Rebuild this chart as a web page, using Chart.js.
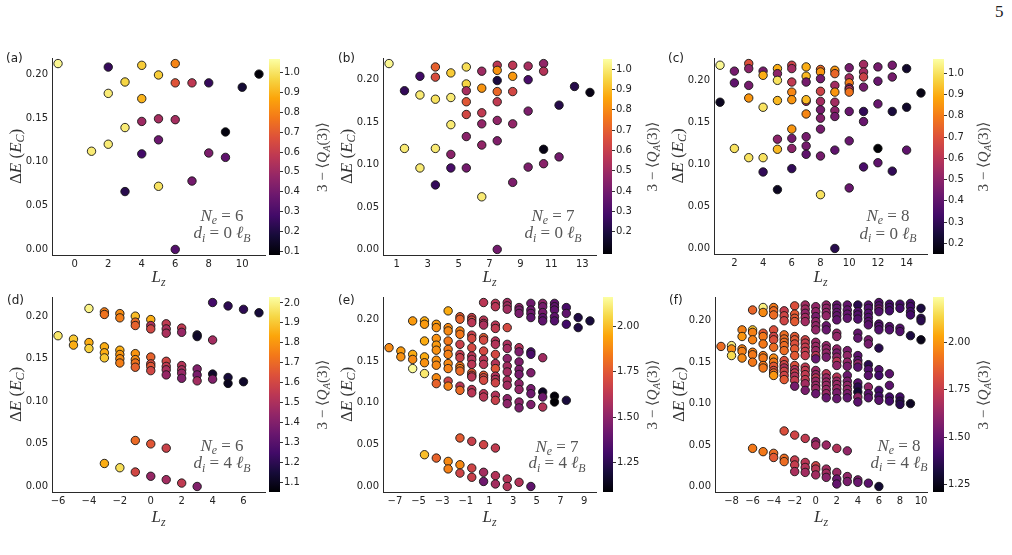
<!DOCTYPE html>
<html>
<head>
<meta charset="utf-8">
<script src="https://cdn.jsdelivr.net/npm/chart.js@4.4.1/dist/chart.umd.min.js"></script>
<style>
  body { margin: 0; background: #fff; }
  #fig { position: relative; width: 1012px; height: 555px; overflow: hidden; background: #fff; }
  .box { position: absolute; }
  #page { position: absolute; left: 995px; top: 2px; font: 17px "Liberation Serif", serif; color: #222; }
</style>
</head>
<body>
<div id="fig"><div id="page">5</div></div>
<script>
// ---- data: one entry of lz per column, dE / q hold the points of that column ----
const yTicks = [0, 0.05, 0.1, 0.15, 0.2];

// (a) Ne = 6, d = 0
const lzA = [-1, 1, 2, 3, 4, 5, 6, 7, 8, 9, 10, 11];
const dEA = [
  [0.212], [0.112], [0.208, 0.178, 0.120], [0.191, 0.139, 0.066],
  [0.210, 0.172, 0.146, 0.109], [0.199, 0.149, 0.125, 0.072],
  [0.212, 0.190, 0.148, 0.000], [0.190, 0.078], [0.190, 0.110],
  [0.134, 0.105], [0.185], [0.200]
];
const qA = [
  [1.05], [1.02], [0.25, 1.02, 1.02], [0.97, 1.02, 0.22],
  [0.95, 0.90, 0.50, 0.28], [0.95, 0.52, 0.38, 1.00],
  [0.80, 0.68, 0.52, 0.32], [0.58, 0.40], [0.25, 0.42],
  [0.10, 0.35], [0.17], [0.09]
];
const xTicksA = [0, 2, 4, 6, 8, 10];
const cbTicksA = [0.1, 0.2, 0.3, 0.4, 0.5, 0.6, 0.7, 0.8, 0.9, 1.0];
const cbRangeA = [0.08, 1.07];

// (b) Ne = 7, d = 0
const lzB = [0.5, 1.5, 2.5, 3.5, 4.5, 5.5, 6.5, 7.5, 8.5, 9.5, 10.5, 11.5, 12.5, 13.5];
const dEB = [
  [0.219], [0.187, 0.119], [0.204, 0.182, 0.096],
  [0.215, 0.203, 0.177, 0.119, 0.076],
  [0.208, 0.179, 0.147, 0.112, 0.096],
  [0.215, 0.195, 0.187, 0.174, 0.159, 0.133, 0.096],
  [0.210, 0.190, 0.161, 0.148, 0.123, 0.062],
  [0.217, 0.211, 0.199, 0.186, 0.174, 0.152, 0.128, 0.000],
  [0.217, 0.204, 0.186, 0.148, 0.079],
  [0.216, 0.200, 0.163, 0.097],
  [0.219, 0.210, 0.118, 0.101],
  [0.170, 0.109], [0.192], [0.185]
];
const qB = [
  [1.03], [0.25, 1.00], [0.28, 1.00, 1.00],
  [0.70, 0.65, 0.98, 1.00, 0.25],
  [0.93, 1.00, 1.00, 0.45, 0.30],
  [0.97, 0.95, 0.52, 0.68, 0.63, 0.45, 0.40],
  [0.50, 0.82, 0.58, 0.47, 0.47, 1.00],
  [0.57, 0.82, 0.20, 0.72, 0.58, 0.47, 0.43, 0.40],
  [0.57, 0.83, 0.63, 0.47, 0.42],
  [0.52, 0.30, 0.42, 0.42],
  [0.47, 0.55, 0.12, 0.45],
  [0.22, 0.40], [0.22], [0.12]
];
const xTicksB = [1, 3, 5, 7, 9, 11, 13];
const cbTicksB = [0.2, 0.3, 0.4, 0.5, 0.6, 0.7, 0.8, 0.9, 1.0];
const cbRangeB = [0.09, 1.05];

// (c) Ne = 8, d = 0
const lzC = [1, 2, 3, 4, 5, 6, 7, 8, 9, 10, 11, 12, 13, 14, 15];
const dEC = [
  [0.218, 0.174],
  [0.211, 0.197, 0.119],
  [0.220, 0.214, 0.194, 0.179, 0.108],
  [0.211, 0.206, 0.168, 0.108, 0.091],
  [0.214, 0.208, 0.200, 0.176, 0.130, 0.118, 0.070],
  [0.218, 0.214, 0.198, 0.186, 0.177, 0.142, 0.131, 0.119, 0.095],
  [0.216, 0.205, 0.198, 0.175, 0.177, 0.160, 0.133, 0.122, 0.112],
  [0.213, 0.210, 0.202, 0.187, 0.175, 0.165, 0.155, 0.142, 0.110, 0.064],
  [0.212, 0.208, 0.194, 0.186, 0.174, 0.164, 0.157, 0.117, 0.000],
  [0.215, 0.203, 0.197, 0.191, 0.189, 0.186, 0.163, 0.128, 0.072],
  [0.219, 0.210, 0.204, 0.192, 0.163, 0.151, 0.097],
  [0.216, 0.199, 0.172, 0.119, 0.102],
  [0.218, 0.204, 0.163, 0.092],
  [0.214, 0.168, 0.117],
  [0.185]
];
const qC = [
  [1.05, 0.20],
  [0.45, 0.40, 1.00],
  [0.70, 0.50, 0.45, 0.85, 1.00],
  [0.45, 0.90, 1.00, 1.00, 0.30],
  [0.90, 0.50, 1.00, 0.92, 0.50, 0.92, 0.20],
  [0.65, 0.55, 0.62, 0.82, 0.85, 0.85, 0.45, 0.50, 0.30],
  [0.90, 0.92, 0.45, 0.55, 0.92, 0.82, 0.45, 0.45, 0.40],
  [0.75, 0.85, 0.45, 0.65, 0.55, 0.45, 0.48, 0.45, 0.45, 1.00],
  [0.85, 0.75, 0.55, 0.85, 0.55, 0.50, 0.45, 0.40, 0.28],
  [0.45, 0.55, 0.80, 0.50, 0.60, 0.78, 0.42, 0.42, 0.42],
  [0.55, 0.55, 0.65, 0.45, 0.30, 0.42, 0.35],
  [0.45, 0.42, 0.42, 0.15, 0.40],
  [0.45, 0.45, 0.25, 0.30],
  [0.22, 0.22, 0.40],
  [0.18]
];
const xTicksC = [2, 4, 6, 8, 10, 12, 14];
const cbTicksC = [0.2, 0.3, 0.4, 0.5, 0.6, 0.7, 0.8, 0.9, 1.0];
const cbRangeC = [0.15, 1.067];

// (d) Ne = 6, d = 4
const lzD = [-6, -5, -4, -3, -2, -1, 0, 1, 2, 3, 4, 5, 6, 7];
const dED = [
  [0.177],
  [0.173, 0.166],
  [0.209, 0.169, 0.162],
  [0.205, 0.202, 0.164, 0.157, 0.151, 0.027],
  [0.203, 0.198, 0.160, 0.155, 0.150, 0.145, 0.022],
  [0.200, 0.193, 0.189, 0.156, 0.149, 0.145, 0.140, 0.054, 0.017],
  [0.196, 0.189, 0.185, 0.152, 0.144, 0.141, 0.136, 0.050, 0.012],
  [0.191, 0.185, 0.180, 0.147, 0.141, 0.137, 0.131, 0.045, 0.008],
  [0.186, 0.181, 0.142, 0.137, 0.133, 0.127, 0.004],
  [0.178, 0.176, 0.138, 0.131, 0.124, 0.000],
  [0.216, 0.172, 0.132, 0.126],
  [0.212, 0.128, 0.121],
  [0.208, 0.123],
  [0.204]
];
const qD = [
  [1.97],
  [1.90, 1.85],
  [2.00, 1.85, 1.92],
  [1.75, 1.72, 1.85, 1.85, 1.90, 1.85],
  [1.78, 1.75, 1.85, 1.80, 1.78, 1.75, 1.95],
  [1.88, 1.70, 1.68, 1.80, 1.78, 1.72, 1.68, 1.70, 1.60],
  [1.85, 1.50, 1.60, 1.68, 1.62, 1.65, 1.60, 1.65, 1.45],
  [1.55, 1.50, 1.50, 1.60, 1.55, 1.50, 1.45, 1.58, 1.48],
  [1.55, 1.45, 1.52, 1.50, 1.45, 1.40, 1.55],
  [1.15, 1.12, 1.40, 1.38, 1.48, 1.40],
  [1.25, 1.48, 1.12, 1.40],
  [1.20, 1.15, 1.10],
  [1.20, 1.12],
  [1.15]
];
const xTicksD = [-6, -4, -2, 0, 2, 4, 6];
const cbTicksD = [1.1, 1.2, 1.3, 1.4, 1.5, 1.6, 1.7, 1.8, 1.9, 2.0];
const cbRangeD = [1.05, 2.03];

// (e) Ne = 7, d = 4
const lzE = [-7.5, -6.5, -5.5, -4.5, -3.5, -2.5, -1.5, -0.5, 0.5, 1.5, 2.5, 3.5, 4.5, 5.5, 6.5, 7.5, 8.5, 9.5];
const dEE = [
  [0.166],
  [0.162, 0.155],
  [0.198, 0.158, 0.152, 0.141],
  [0.198, 0.194, 0.174, 0.155, 0.148, 0.135, 0.038],
  [0.194, 0.190, 0.177, 0.169, 0.163, 0.151, 0.145, 0.130, 0.123, 0.034],
  [0.210, 0.190, 0.186, 0.174, 0.164, 0.158, 0.147, 0.141, 0.126, 0.120, 0.030, 0.021],
  [0.203, 0.200, 0.186, 0.182, 0.170, 0.158, 0.154, 0.144, 0.141, 0.138, 0.120, 0.115, 0.058, 0.026, 0.016],
  [0.202, 0.199, 0.196, 0.181, 0.177, 0.166, 0.156, 0.152, 0.146, 0.136, 0.133, 0.131, 0.116, 0.112, 0.054, 0.022, 0.011],
  [0.220, 0.199, 0.195, 0.193, 0.178, 0.175, 0.162, 0.152, 0.146, 0.133, 0.130, 0.127, 0.111, 0.107, 0.050, 0.017, 0.006],
  [0.219, 0.215, 0.193, 0.189, 0.174, 0.170, 0.158, 0.147, 0.141, 0.132, 0.128, 0.124, 0.109, 0.103, 0.046, 0.013, 0.003],
  [0.220, 0.216, 0.212, 0.190, 0.170, 0.165, 0.153, 0.144, 0.137, 0.127, 0.121, 0.105, 0.099, 0.009, 0.000],
  [0.214, 0.211, 0.207, 0.166, 0.161, 0.149, 0.140, 0.134, 0.123, 0.116, 0.101, 0.094, 0.005],
  [0.219, 0.211, 0.207, 0.202, 0.161, 0.158, 0.136, 0.117, 0.111, 0.098, 0.000],
  [0.219, 0.215, 0.208, 0.202, 0.198, 0.154, 0.113, 0.107, 0.095],
  [0.219, 0.215, 0.211, 0.203, 0.198, 0.108, 0.101],
  [0.214, 0.207, 0.194, 0.103],
  [0.202, 0.190],
  [0.198]
];
const qE = [
  [1.88],
  [1.92, 1.90],
  [1.92, 1.96, 1.88, 2.15],
  [1.96, 1.92, 1.96, 1.96, 1.90, 2.10, 2.00],
  [1.92, 1.90, 1.90, 1.92, 1.90, 1.90, 1.88, 1.88, 1.78, 1.78],
  [1.96, 1.88, 1.88, 1.84, 1.84, 1.86, 1.88, 1.86, 1.68, 1.86, 1.88, 1.86],
  [1.76, 1.78, 1.86, 1.84, 1.66, 1.64, 1.66, 1.84, 1.84, 1.80, 1.62, 1.80, 1.76, 1.88, 1.68],
  [1.66, 1.70, 1.62, 1.66, 1.70, 1.70, 1.62, 1.60, 1.62, 1.76, 1.70, 1.62, 1.62, 1.62, 1.66, 1.68, 1.66],
  [1.62, 1.62, 1.62, 1.58, 1.76, 1.70, 1.70, 1.62, 1.62, 1.76, 1.70, 1.70, 1.62, 1.62, 1.68, 1.56, 1.42],
  [1.62, 1.62, 1.62, 1.64, 1.60, 1.60, 1.70, 1.60, 1.74, 1.60, 1.60, 1.68, 1.60, 1.66, 1.64, 1.60, 1.56],
  [1.56, 1.56, 1.56, 1.70, 1.58, 1.56, 1.50, 1.56, 1.56, 1.58, 1.56, 1.50, 1.50, 1.60, 1.60],
  [1.50, 1.45, 1.45, 1.60, 1.46, 1.46, 1.46, 1.44, 1.50, 1.52, 1.50, 1.46, 1.60],
  [1.42, 1.42, 1.42, 1.38, 1.32, 1.32, 1.46, 1.44, 1.42, 1.46, 1.38],
  [1.50, 1.44, 1.44, 1.38, 1.38, 1.55, 1.15, 1.42, 1.60],
  [1.38, 1.38, 1.38, 1.38, 1.35, 1.10, 1.09],
  [1.32, 1.38, 1.30, 1.20],
  [1.22, 1.22],
  [1.20]
];
const xTicksE = [-7, -5, -3, -1, 1, 3, 5, 7, 9];
const cbTicksE = [1.25, 1.5, 1.75, 2.0];
const cbRangeE = [1.087, 2.162];

// (f) Ne = 8, d = 4
const lzF = [-9, -8, -7, -6, -5, -4, -3, -2, -1, 0, 1, 2, 3, 4, 5, 6, 7, 8, 9, 10];
const dEF = [
  [0.169],
  [0.170, 0.166, 0.158],
  [0.189, 0.181, 0.166, 0.163, 0.155],
  [0.213, 0.189, 0.186, 0.177, 0.162, 0.159, 0.150, 0.046],
  [0.216, 0.210, 0.185, 0.181, 0.172, 0.158, 0.155, 0.146, 0.143, 0.042],
  [0.216, 0.212, 0.207, 0.189, 0.181, 0.177, 0.168, 0.155, 0.150, 0.145, 0.140, 0.137, 0.134, 0.040, 0.035],
  [0.212, 0.206, 0.200, 0.183, 0.178, 0.174, 0.170, 0.164, 0.152, 0.147, 0.143, 0.139, 0.134, 0.129, 0.067, 0.034, 0.030],
  [0.218, 0.208, 0.203, 0.199, 0.181, 0.177, 0.172, 0.166, 0.158, 0.146, 0.141, 0.137, 0.133, 0.128, 0.121, 0.062, 0.032, 0.026, 0.018],
  [0.219, 0.214, 0.209, 0.204, 0.199, 0.177, 0.173, 0.168, 0.163, 0.158, 0.144, 0.140, 0.135, 0.129, 0.124, 0.116, 0.058, 0.029, 0.023, 0.017],
  [0.217, 0.211, 0.205, 0.199, 0.194, 0.189, 0.174, 0.169, 0.164, 0.158, 0.154, 0.140, 0.135, 0.131, 0.127, 0.122, 0.118, 0.112, 0.054, 0.050, 0.025, 0.021, 0.014],
  [0.219, 0.215, 0.210, 0.206, 0.194, 0.189, 0.170, 0.166, 0.161, 0.156, 0.136, 0.131, 0.126, 0.122, 0.117, 0.112, 0.107, 0.050, 0.021, 0.016, 0.011],
  [0.219, 0.215, 0.210, 0.206, 0.201, 0.185, 0.181, 0.166, 0.161, 0.156, 0.151, 0.146, 0.132, 0.127, 0.123, 0.118, 0.113, 0.106, 0.046, 0.017, 0.009, 0.003],
  [0.219, 0.213, 0.208, 0.203, 0.164, 0.158, 0.150, 0.145, 0.134, 0.127, 0.122, 0.117, 0.112, 0.107, 0.043, 0.012, 0.006],
  [0.219, 0.211, 0.207, 0.202, 0.185, 0.179, 0.158, 0.152, 0.148, 0.144, 0.125, 0.120, 0.114, 0.108, 0.102, 0.008, 0.005],
  [0.219, 0.215, 0.209, 0.204, 0.199, 0.195, 0.177, 0.172, 0.147, 0.141, 0.134, 0.120, 0.112, 0.107, 0.004],
  [0.222, 0.218, 0.214, 0.211, 0.196, 0.193, 0.189, 0.167, 0.141, 0.134, 0.116, 0.109, 0.104, 0.000],
  [0.220, 0.216, 0.212, 0.193, 0.189, 0.136, 0.122, 0.108, 0.103],
  [0.220, 0.215, 0.191, 0.187, 0.108, 0.103, 0.099],
  [0.221, 0.217, 0.211, 0.207, 0.182, 0.100],
  [0.215, 0.203, 0.200, 0.177]
];
const qF = [
  [1.90],
  [2.20, 1.97, 2.15],
  [1.95, 2.00, 1.95, 1.95, 1.97],
  [1.88, 2.10, 1.95, 1.95, 1.95, 1.93, 1.93, 1.93],
  [2.20, 1.97, 1.85, 1.93, 1.93, 1.93, 1.93, 1.93, 1.93, 1.93],
  [1.93, 1.90, 1.90, 1.82, 1.78, 1.82, 1.90, 1.97, 1.93, 1.85, 1.82, 1.90, 2.00, 1.90, 1.85],
  [1.75, 1.78, 1.78, 1.90, 1.90, 1.90, 1.90, 1.90, 1.82, 1.78, 1.70, 1.78, 1.78, 1.85, 1.82, 1.90, 1.90],
  [1.82, 1.85, 1.85, 1.85, 1.85, 1.85, 1.82, 1.85, 1.85, 1.82, 1.70, 1.75, 1.70, 1.75, 1.55, 1.78, 1.75, 1.75, 1.68],
  [1.66, 1.66, 1.62, 1.66, 1.66, 1.78, 1.75, 1.75, 1.75, 1.75, 1.74, 1.74, 1.74, 1.74, 1.66, 1.56, 1.74, 1.72, 1.70, 1.66],
  [1.62, 1.62, 1.56, 1.62, 1.62, 1.62, 1.64, 1.64, 1.64, 1.72, 1.52, 1.64, 1.64, 1.72, 1.64, 1.64, 1.64, 1.52, 1.60, 1.66, 1.78, 1.72, 1.66],
  [1.62, 1.62, 1.62, 1.62, 1.52, 1.52, 1.62, 1.62, 1.62, 1.56, 1.72, 1.64, 1.64, 1.64, 1.64, 1.64, 1.52, 1.64, 1.66, 1.66, 1.60],
  [1.50, 1.50, 1.50, 1.50, 1.50, 1.62, 1.62, 1.62, 1.56, 1.62, 1.72, 1.62, 1.72, 1.64, 1.64, 1.64, 1.56, 1.52, 1.70, 1.64, 1.52, 1.50],
  [1.50, 1.50, 1.50, 1.50, 1.56, 1.62, 1.62, 1.56, 1.52, 1.56, 1.62, 1.62, 1.56, 1.50, 1.62, 1.62, 1.56],
  [1.36, 1.46, 1.46, 1.46, 1.50, 1.50, 1.48, 1.48, 1.62, 1.48, 1.48, 1.36, 1.30, 1.62, 1.48, 1.56, 1.52],
  [1.46, 1.46, 1.46, 1.46, 1.48, 1.48, 1.55, 1.55, 1.36, 1.46, 1.48, 1.62, 1.48, 1.48, 1.48],
  [1.46, 1.46, 1.55, 1.46, 1.46, 1.46, 1.46, 1.36, 1.46, 1.42, 1.42, 1.42, 1.48, 1.30],
  [1.42, 1.42, 1.42, 1.46, 1.46, 1.48, 1.48, 1.42, 1.42],
  [1.42, 1.42, 1.46, 1.46, 1.42, 1.36, 1.36],
  [1.42, 1.42, 1.42, 1.42, 1.33, 1.27],
  [1.33, 1.36, 1.36, 1.25]
];
const xTicksF = [-8, -6, -4, -2, 0, 2, 4, 6, 8, 10];
const cbTicksF = [1.25, 1.5, 1.75, 2.0];
const cbRangeF = [1.21, 2.24];

// ---- layout of the six panels (page pixels) ----
const panels = [
  { tag: '(a)', lz: lzA, dE: dEA, q: qA, xTicks: xTicksA, cbTicks: cbTicksA, cbRange: cbRangeA, cbDigits: 1, ne: 6, di: 0,
    plot: { l: 52, t: 58, r: 265, b: 255 }, cb: { l: 269, t: 59, r: 280, b: 255 }, tagPos: [6, 59], annX: 222, annY: [215, 232.5], cbTitleX: 322, xlabDy: 22 },
  { tag: '(b)', lz: lzB, dE: dEB, q: qB, xTicks: xTicksB, cbTicks: cbTicksB, cbRange: cbRangeB, cbDigits: 1, ne: 7, di: 0,
    plot: { l: 383, t: 58, r: 596, b: 255 }, cb: { l: 603, t: 59, r: 612, b: 254 }, tagPos: [338, 59], annX: 553, annY: [215, 232.5], cbTitleX: 652, xlabDy: 22 },
  { tag: '(c)', lz: lzC, dE: dEC, q: qC, xTicks: xTicksC, cbTicks: cbTicksC, cbRange: cbRangeC, cbDigits: 1, ne: 8, di: 0,
    plot: { l: 714, t: 58, r: 927, b: 254 }, cb: { l: 933, t: 59, r: 944, b: 254 }, tagPos: [668, 59], annX: 888, annY: [215, 233], cbTitleX: 983, xlabDy: 23 },
  { tag: '(d)', lz: lzD, dE: dED, q: qD, xTicks: xTicksD, cbTicks: cbTicksD, cbRange: cbRangeD, cbDigits: 1, ne: 6, di: 4,
    plot: { l: 52, t: 297, r: 265, b: 492 }, cb: { l: 269, t: 297, r: 280, b: 492 }, tagPos: [7, 301], annX: 222, annY: [445, 462.5], cbTitleX: 322, xlabDy: 25 },
  { tag: '(e)', lz: lzE, dE: dEE, q: qE, xTicks: xTicksE, cbTicks: cbTicksE, cbRange: cbRangeE, cbDigits: 2, ne: 7, di: 4,
    plot: { l: 383, t: 297, r: 596, b: 492 }, cb: { l: 603, t: 297, r: 613, b: 492 }, tagPos: [338, 301], annX: 557, annY: [446, 462.5], cbTitleX: 652, xlabDy: 25 },
  { tag: '(f)', lz: lzF, dE: dEF, q: qF, xTicks: xTicksF, cbTicks: cbTicksF, cbRange: cbRangeF, cbDigits: 2, ne: 8, di: 4,
    plot: { l: 715, t: 297, r: 927, b: 492 }, cb: { l: 933, t: 297, r: 944, b: 492 }, tagPos: [669, 301], annX: 899, annY: [445, 462], cbTitleX: 983, xlabDy: 25 }
];

const PAD = 8, YW = 50, XH = 34, CBW = 64;
const tickFont = { family: 'DejaVu Sans', size: 10 };
const TICK = '#222';
const MATH = '"Liberation Serif", "DejaVu Serif", serif';

// inferno colormap, 11 stops
const inferno = ['#000004', '#160b39', '#420a68', '#6a176e', '#932667', '#bc3754',
                 '#dd513a', '#f37819', '#fca50a', '#f6d746', '#fcffa4'];
function hexRgb(h) { return [1, 3, 5].map(i => parseInt(h.substr(i, 2), 16)); }
const infRgb = inferno.map(hexRgb);
function cmap(t) {
  t = Math.min(1, Math.max(0, t));
  const s = t * (infRgb.length - 1);
  const i = Math.min(infRgb.length - 2, Math.floor(s));
  const f = s - i;
  const c = infRgb[i].map((v, k) => Math.round(v + (infRgb[i + 1][k] - v) * f));
  return `rgb(${c[0]},${c[1]},${c[2]})`;
}

const minus = s => String(s).replace('-', '\u2212');

// draw a line of math made of [text, style] pieces; style: r roman, i italic, s* subscript
function drawMath(ctx, segs, x, y, size, align) {
  const fontFor = s => (s.includes('i') ? 'italic ' : '') + (s[0] === 's' ? size * 0.7 : size) + 'px ' + MATH;
  let w = 0;
  segs.forEach(([t, s]) => { ctx.font = fontFor(s); w += ctx.measureText(t).width; });
  let cx = align === 'right' ? x - w : align === 'center' ? x - w / 2 : x;
  ctx.textAlign = 'left';
  ctx.textBaseline = 'alphabetic';
  segs.forEach(([t, s]) => {
    ctx.font = fontFor(s);
    ctx.fillText(t, cx, y + (s[0] === 's' ? size * 0.22 : 0));
    cx += ctx.measureText(t).width;
  });
}

const panelText = {
  id: 'panelText',
  afterDraw(chart, args, o) {
    const ctx = chart.ctx, p = o.p;
    const ox = p.plot.l - YW - PAD, oy = p.plot.t - PAD;
    ctx.save();
    ctx.fillStyle = '#222';
    ctx.font = '12px "DejaVu Sans"';
    ctx.textAlign = 'left';
    ctx.textBaseline = 'middle';
    ctx.fillText(p.tag, p.tagPos[0] - ox, p.tagPos[1] - oy);

    ctx.fillStyle = '#333';
    // y label, rotated
    ctx.save();
    ctx.translate(p.plot.l - 37 - ox, (p.plot.t + p.plot.b) / 2 - oy);
    ctx.rotate(-Math.PI / 2);
    drawMath(ctx, [['\u0394', 'r'], ['E', 'i'], [' (', 'r'], ['E', 'i'], ['C', 'si'], [')', 'r']], 0, 5.5, 17, 'center');
    ctx.restore();
    // x label
    drawMath(ctx, [['L', 'i'], ['z', 'si']], (p.plot.l + p.plot.r) / 2 - ox, p.plot.b + p.xlabDy + 5 - oy, 17, 'center');
    // annotation
    ctx.fillStyle = '#555';
    drawMath(ctx, [['N', 'i'], ['e', 'si'], [' = ' + p.ne, 'r']], p.annX - ox, p.annY[0] + 5.5 - oy, 17, 'center');
    drawMath(ctx, [['d', 'i'], ['i', 'si'], [' = ' + p.di + ' ', 'r'], ['\u2113', 'i'], ['B', 'si']], p.annX - ox, p.annY[1] + 5.5 - oy, 17, 'center');
    ctx.restore();
  }
};

const cbText = {
  id: 'cbText',
  afterDraw(chart, args, o) {
    const ctx = chart.ctx, p = o.p;
    const ox = p.cb.l - PAD, oy = p.cb.t - PAD;
    ctx.save();
    ctx.fillStyle = '#444';
    ctx.translate(p.cbTitleX - ox, (p.cb.t + p.cb.b) / 2 - oy);
    ctx.rotate(-Math.PI / 2);
    drawMath(ctx, [['3 \u2212 \u27e8', 'r'], ['Q', 'i'], ['A', 'si'], ['(3)\u27e9', 'r']], 0, 5, 15, 'center');
    ctx.restore();
  }
};

function extent(arr2) {
  const flat = arr2.flat();
  return [Math.min(...flat), Math.max(...flat)];
}

function place(el, l, t, w, h) {
  el.className = 'box';
  el.style.left = l + 'px';
  el.style.top = t + 'px';
  el.style.width = w + 'px';
  el.style.height = h + 'px';
}

const fig = document.getElementById('fig');

function buildPanel(p) {
  const w = p.plot.r - p.plot.l, h = p.plot.b - p.plot.t;
  const [lo, hi] = p.cbRange;

  // points, column by column
  const pts = [], colors = [];
  p.lz.forEach((x, i) => {
    p.dE[i].forEach((y, j) => {
      pts.push({ x: x, y: y });
      colors.push(cmap((p.q[i][j] - lo) / (hi - lo)));
    });
  });

  const xr = [Math.min(...p.lz), Math.max(...p.lz)];
  const xpad = (xr[1] - xr[0]) * 0.03;
  const yr = extent(p.dE);
  const ypad = (yr[1] - yr[0]) * 0.03;

  const box = document.createElement('div');
  place(box, p.plot.l - YW - PAD, p.plot.t - PAD, w + YW + 2 * PAD, h + XH + 2 * PAD);
  const cv = document.createElement('canvas');
  box.appendChild(cv);
  fig.appendChild(box);

  new Chart(cv, {
    type: 'scatter',
    data: {
      datasets: [{
        data: pts,
        backgroundColor: colors,
        borderColor: '#151515',
        borderWidth: 0.9,
        pointRadius: 4.2,
        pointHoverRadius: 4.2,
        clip: false
      }]
    },
    options: {
      responsive: true,
      maintainAspectRatio: false,
      animation: false,
      events: [],
      layout: { padding: PAD },
      plugins: { legend: { display: false }, tooltip: { enabled: false }, panelText: { p: p } },
      scales: {
        x: {
          type: 'linear',
          min: xr[0] - xpad,
          max: xr[1] + xpad,
          afterBuildTicks: s => { s.ticks = p.xTicks.map(v => ({ value: v })); },
          afterFit: s => { s.height = XH; s.paddingLeft = 0; s.paddingRight = 0; },
          grid: { display: false, drawTicks: false },
          border: { display: true, color: '#2a2a2a', width: 1 },
          ticks: { font: tickFont, color: TICK, padding: 3, maxRotation: 0, autoSkip: false, callback: v => minus(v) }
        },
        y: {
          type: 'linear',
          min: yr[0] - ypad,
          max: yr[1] + ypad,
          afterBuildTicks: s => { s.ticks = yTicks.map(v => ({ value: v })); },
          afterFit: s => { s.width = YW; s.paddingTop = 0; s.paddingBottom = 0; },
          grid: { display: false, drawTicks: false },
          border: { display: true, color: '#2a2a2a', width: 1 },
          ticks: { font: tickFont, color: TICK, padding: 4, autoSkip: false, callback: v => v.toFixed(2) }
        }
      }
    },
    plugins: [panelText]
  });

  // colour bar
  const cbw = p.cb.r - p.cb.l, cbh = p.cb.b - p.cb.t;
  const cbox = document.createElement('div');
  place(cbox, p.cb.l - PAD, p.cb.t - PAD, cbw + CBW + 2 * PAD, cbh + 2 * PAD);
  const ccv = document.createElement('canvas');
  cbox.appendChild(ccv);
  fig.appendChild(cbox);

  new Chart(ccv, {
    type: 'bar',
    data: {
      labels: ['c'],
      datasets: [{
        data: [[lo, hi]],
        barPercentage: 1,
        categoryPercentage: 1,
        borderWidth: 0,
        backgroundColor: ctx => {
          const ca = ctx.chart.chartArea;
          if (!ca) return '#000';
          const g = ctx.chart.ctx.createLinearGradient(0, ca.bottom, 0, ca.top);
          for (let k = 0; k <= 20; k++) g.addColorStop(k / 20, cmap(k / 20));
          return g;
        }
      }]
    },
    options: {
      responsive: true,
      maintainAspectRatio: false,
      animation: false,
      events: [],
      layout: { padding: PAD },
      plugins: { legend: { display: false }, tooltip: { enabled: false }, cbText: { p: p } },
      scales: {
        x: { display: false },
        y: {
          position: 'right',
          min: lo,
          max: hi,
          afterBuildTicks: s => { s.ticks = p.cbTicks.map(v => ({ value: v })); },
          afterFit: s => { s.width = CBW; s.paddingTop = 0; s.paddingBottom = 0; },
          grid: { display: true, drawOnChartArea: false, drawTicks: true, tickLength: 3, color: '#333' },
          border: { display: false },
          ticks: { font: tickFont, color: TICK, padding: 1, autoSkip: false, callback: v => v.toFixed(p.cbDigits) }
        }
      }
    },
    plugins: [cbText]
  });
}

panels.forEach(buildPanel);
</script>
</body>
</html>
